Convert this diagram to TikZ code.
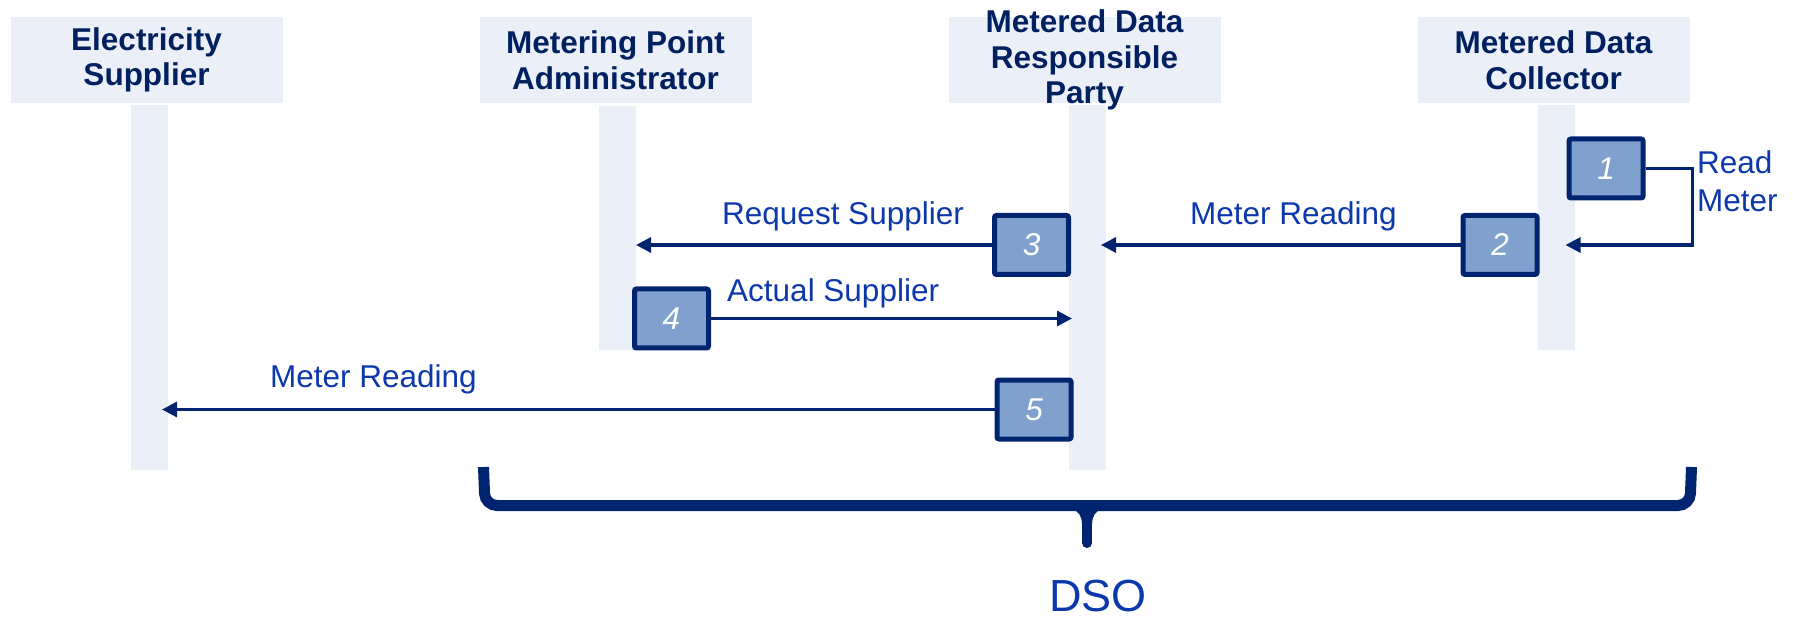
\documentclass[tikz,border=0pt]{standalone}
\usepackage{fontspec}
\setmainfont{Liberation Sans}
\usetikzlibrary{arrows.meta,positioning}
\definecolor{laneblue}{RGB}{235,240,248}
\definecolor{navy}{RGB}{0,36,112}
\definecolor{hdrnavy}{RGB}{0,32,96}
\definecolor{stepfill}{RGB}{128,160,206}
\definecolor{msgblue}{RGB}{12,56,172}

\begin{document}
\begin{tikzpicture}[
  x=1pt,y=-1pt,
  hdr/.style={rectangle,fill=laneblue,inner sep=0pt,outer sep=0pt,minimum width=272pt,minimum height=86pt},
  hdrtxt/.style={align=center,text=hdrnavy,font=\fontsize{31.5}{35.5}\selectfont\bfseries},
  life/.style={rectangle,fill=laneblue,inner sep=0pt,outer sep=0pt,minimum width=37pt},
  num/.style={rectangle,draw=navy,line width=5pt,rounded corners=2pt,fill=stepfill,minimum width=74pt,minimum height=59pt,inner sep=0pt,text=white,font=\fontsize{31.5}{36}\selectfont\itshape},
  lbl/.style={text=msgblue,inner sep=0pt,font=\fontsize{31.5}{38}\selectfont},
  msg/.style={-{Triangle[length=15pt,width=15pt]},draw=navy,line width=3.2pt},
  brc/.style={draw=navy,line width=11pt}
]
\useasboundingbox (0,0) rectangle (1793,617);
\node[hdr] (es) at (146.5,60) {};
\node[hdr,right=197pt of es] (mpa) {};
\node[hdr,right=197pt of mpa] (mdrp) {};
\node[hdr,right=197pt of mdrp] (mdc) {};
\node[life,minimum height=364pt,below=2.5pt of es,xshift=3pt] (lifeES) {};
\node[life,minimum height=244pt,below=3pt of mpa,xshift=2pt] (lifeMPA) {};
\node[life,minimum height=364pt,below=2.5pt of mdrp,xshift=3pt] (lifeMDRP) {};
\node[life,minimum height=245pt,below=2.5pt of mdc,xshift=2.5pt] (lifeMDC) {};
\node[hdrtxt] (esTxt) at (es) {Electricity\\Supplier};
\node[hdrtxt] (mpaTxt) at (mpa) {Metering Point\\Administrator};
\node[hdrtxt] (mdrpTxt) at (mdrp) {Metered Data\\Responsible\\Party};
\node[hdrtxt] (mdcTxt) at (mdc) {Metered Data\\Collector};
\node[num] (b1) at (1606,168.5) {1};
\node[num] (b2) at (1500,245) {2};
\node[num] (b3) at (1031.5,245) {3};
\node[num] (b4) at (671.5,318.5) {4};
\node[num] (b5) at (1034,409.5) {5};
\draw[msg] (b1.east) -- ++(47,0) |- ([xshift=-9pt]lifeMDC.east |- b2);
\draw[msg] (b2.west) -- ([xshift=-5pt]lifeMDRP.east |- b2);
\draw[msg] (b3.west) -- (lifeMPA.east |- b3);
\draw[msg] (b4.east) -- ([xshift=3pt]lifeMDRP.west |- b4);
\draw[msg] (b5.west) -- ([xshift=-6pt]lifeES.east |- b5);
\node[lbl,anchor=west,align=left] (readTxt) at (1697,181) {Read\\Meter};
\node[lbl,anchor=base west] (mrTxt) at (1190,225) {Meter Reading};
\node[lbl,anchor=base west] (reqTxt) at (722,225) {Request Supplier};
\node[lbl,anchor=base west] (actTxt) at (727,302) {Actual Supplier};
\node[lbl,anchor=base west] (fwdTxt) at (270,388) {Meter Reading};
\draw[brc,rounded corners=12pt] (483.5,467) -- (485,505.5) -- (1690,505.5) -- (1691.5,467);
\draw[brc,line width=10pt,line cap=round] (1087,505.5) -- (1087,543);
\fill[navy] (1072,510) to[out=0,in=90] (1082,524) -- (1092,524) to[out=90,in=180] (1102,510) -- cycle;
\node[lbl,font=\fontsize{45}{50}\selectfont,anchor=base] (dso) at (1098,611) {DSO};
\end{tikzpicture}
\end{document}
